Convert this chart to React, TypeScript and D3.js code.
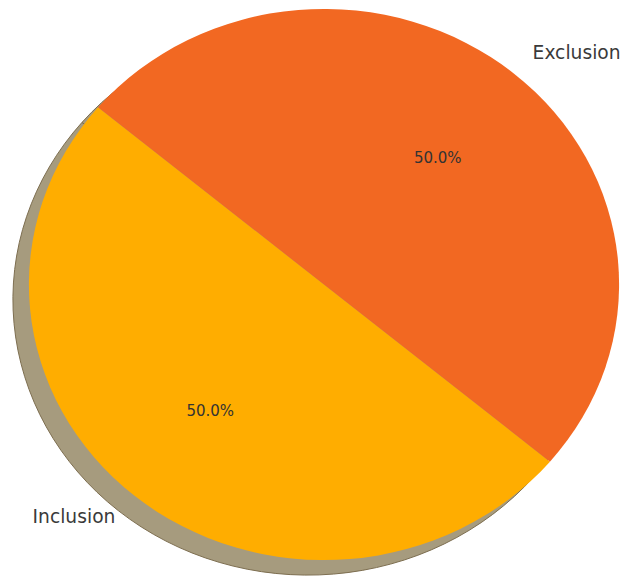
import React from "react";
import * as d3 from "d3";

const categories = ["Inclusion", "Exclusion"];
const values = [50, 50];
const colors = ["#FFAD00", "#F26822"];

const W = 625;
const H = 576;
const cx = 324;
const cy = 284.5;
const rx = 295;
const ry = 275.5;
const startDeg = 140; // counterclockwise from 3 o'clock
const shadowDx = -16;
const shadowDy = 15;

export default function App() {
  const pieGen = d3
    .pie<number>()
    .sort(null)
    .startAngle(((90 - startDeg) * Math.PI) / 180)
    .endAngle(((90 - startDeg - 360) * Math.PI) / 180);
  const arcs = pieGen(values);
  const arcGen = d3.arc<d3.PieArcDatum<number>>().innerRadius(0).outerRadius(1);
  const total = d3.sum(values);

  const pos = (a: number, dist: number) => {
    return [cx + dist * rx * Math.sin(a), cy - dist * ry * Math.cos(a)];
  };

  return (
    <svg
      width={W}
      height={H}
      style={{ position: "absolute", left: 0, top: 0, fontFamily: "DejaVu Sans" }}
    >
      <g transform={`translate(${cx + shadowDx},${cy + shadowDy}) scale(${rx},${ry})`}>
        {arcs.map((d, i) => (
          <path
            key={"s" + i}
            d={arcGen(d) || ""}
            fill="#A69B7E"
            stroke="#7D6E50"
            strokeWidth={1}
            vectorEffect="non-scaling-stroke"
          />
        ))}
      </g>
      <g transform={`translate(${cx},${cy}) scale(${rx},${ry})`}>
        {arcs.map((d, i) => (
          <path key={"w" + i} d={arcGen(d) || ""} fill={colors[i]} />
        ))}
      </g>
      {arcs.map((d, i) => {
        const mid = (d.startAngle + d.endAngle) / 2;
        const [lx, ly] = pos(mid, 1.1);
        const [px, py] = pos(mid, 0.6);
        const anchor = Math.sin(mid) < 0 ? "end" : "start";
        return (
          <g key={"t" + i}>
            <text
              x={lx}
              y={ly}
              textAnchor={anchor}
              dominantBaseline="central"
              fontSize={18.7}
              fill="#3a3a3a"
            >
              {categories[i]}
            </text>
            <text
              x={px}
              y={py}
              textAnchor="middle"
              dominantBaseline="central"
              fontSize={15}
              fill="#333333"
            >
              {((values[i] / total) * 100).toFixed(1) + "%"}
            </text>
          </g>
        );
      })}
    </svg>
  );
}
